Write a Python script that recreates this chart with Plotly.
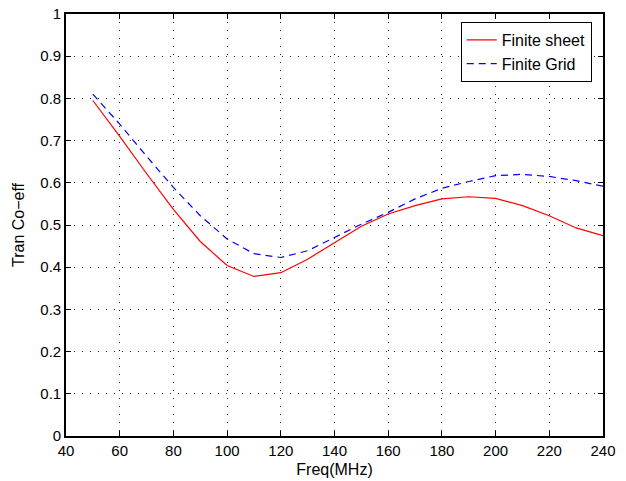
import plotly.graph_objects as go

freq = [50, 60, 70, 80, 90, 100, 110, 120, 130, 140, 150, 160, 170, 180, 190, 200, 210, 220, 230, 240]
finite_sheet = [0.795, 0.71, 0.622, 0.537, 0.461, 0.404, 0.378, 0.387, 0.419, 0.459, 0.497, 0.526,
                0.546, 0.562, 0.567, 0.563, 0.546, 0.522, 0.493, 0.475]
finite_grid = [0.81, 0.739, 0.663, 0.589, 0.522, 0.467, 0.432, 0.423, 0.439, 0.471, 0.502, 0.530,
               0.562, 0.587, 0.603, 0.617, 0.620, 0.615, 0.605, 0.592]
x_ticks = list(range(40, 241, 20))
y_ticks = [round(i * 0.1, 1) for i in range(11)]

fig = go.Figure()
fig.add_trace(go.Scatter(x=freq, y=finite_sheet, mode="lines", name="Finite sheet",
                         line=dict(color="red", width=1.2)))
fig.add_trace(go.Scatter(x=freq, y=finite_grid, mode="lines", name="Finite Grid",
                         line=dict(color="blue", width=1.2, dash="7px,5px")))

axis_common = dict(showline=True, linecolor="black", linewidth=1.6, mirror="ticks",
                   ticks="inside", ticklen=5, tickcolor="black", tickwidth=1,
                   showgrid=True, gridcolor="rgba(0,0,0,0.85)", gridwidth=1, griddash="1px,7px",
                   zeroline=False, tickfont=dict(size=15, color="black"))

fig.update_xaxes(range=[40, 240], tickvals=x_ticks, ticktext=[str(v) for v in x_ticks],
                 title=dict(text="Freq(MHz)", font=dict(size=16, color="black"), standoff=6),
                 **axis_common)
fig.update_yaxes(range=[0, 1], tickvals=y_ticks, ticktext=[("%g" % v) for v in y_ticks],
                 title=dict(text="Tran Co\u2212eff", font=dict(size=16, color="black"), standoff=12),
                 **axis_common)

fig.update_layout(
    width=626, height=481,
    margin=dict(l=66, r=23, t=14, b=45, autoexpand=False),
    paper_bgcolor="white", plot_bgcolor="white",
    font=dict(family="Liberation Sans, Arial, sans-serif", size=15, color="black"),
    legend=dict(x=0.979, y=0.981, xanchor="right", yanchor="top",
                bgcolor="white", bordercolor="black", borderwidth=1,
                font=dict(size=16), tracegroupgap=0),
)

fig.write_html("out.html", config={"displayModeBar": False},
               post_script="document.body.style.margin='0';")
